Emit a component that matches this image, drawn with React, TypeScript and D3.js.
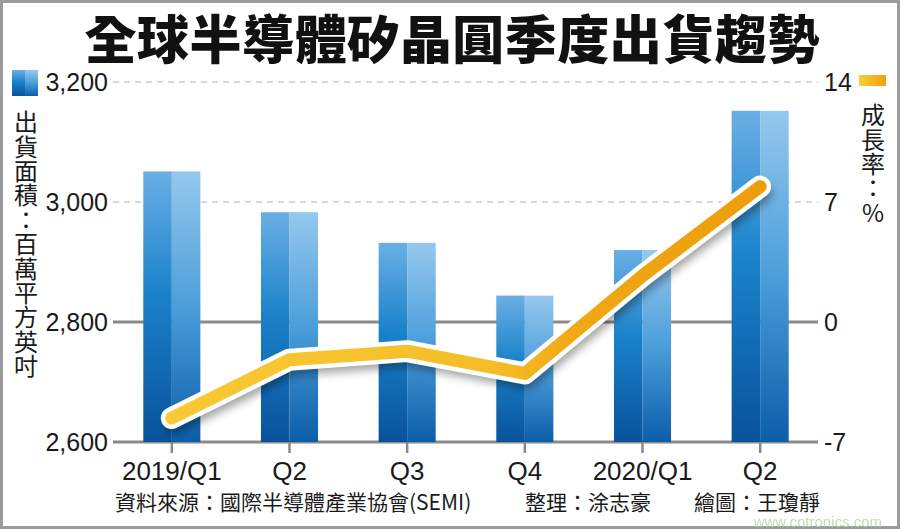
import React, { useEffect, useRef } from "react";
import * as d3 from "d3";

const quarters = ["2019/Q1", "Q2", "Q3", "Q4", "2020/Q1", "Q2 "];
const area = [3051, 2983, 2932, 2844, 2920, 3152]; // million sq. inches
const growth = [-5.6, -2.2, -1.7, -3.0, 2.7, 7.9]; // %
const leftTicks = [2600, 2800, 3000, 3200];
const rightTicks = [-7, 0, 7, 14];
const leftTitle = "出貨面積：百萬平方英吋";
const rightTitle = "成長率：%";
const footer = ["資料來源：國際半導體產業協會(SEMI)", "整理：涂志豪", "繪圖：王瓊靜"];

const W = 900;
const H = 530;
const cjk = "'Noto Sans CJK TC', 'Noto Sans CJK SC', sans-serif";
const latin = "'Liberation Sans', Arial, sans-serif";

const App = () => {
  const ref = useRef<SVGSVGElement>(null);

  useEffect(() => {
    const svg = d3.select(ref.current);
    svg.selectAll("*").remove();

    const x = d3
      .scaleBand()
      .domain(quarters)
      .range([113, 819])
      .paddingInner(0.515)
      .paddingOuter(0.2575);
    const yL = d3.scaleLinear().domain([2600, 3200]).range([442, 82]);
    const yR = d3.scaleLinear().domain([-7, 14]).range([442, 82]);
    const cx = (d: string) => (x(d) ?? 0) + x.bandwidth() / 2;

    const defs = svg.append("defs");
    const vGrad = (id: string, stops: [string, string][]) => {
      defs
        .append("linearGradient")
        .attr("id", id)
        .attr("x1", "0")
        .attr("y1", "0")
        .attr("x2", "0")
        .attr("y2", "1")
        .selectAll("stop")
        .data(stops)
        .enter()
        .append("stop")
        .attr("offset", (d) => d[0])
        .attr("stop-color", (d) => d[1]);
    };
    vGrad("barL", [
      ["0%", "#6aafe5"],
      ["45%", "#1a82ca"],
      ["100%", "#08529b"],
    ]);
    vGrad("barR", [
      ["0%", "#95c8ed"],
      ["50%", "#4b9eda"],
      ["100%", "#0b5ea8"],
    ]);

    defs
      .append("linearGradient")
      .attr("id", "lineGrad")
      .attr("gradientUnits", "userSpaceOnUse")
      .attr("x1", cx(quarters[0]))
      .attr("x2", cx(quarters[5]))
      .attr("y1", 0)
      .attr("y2", 0)
      .selectAll("stop")
      .data([
        ["0%", "#f7c935"],
        ["55%", "#f5bd27"],
        ["68%", "#f1a815"],
        ["100%", "#ee9d0b"],
      ])
      .enter()
      .append("stop")
      .attr("offset", (d) => d[0])
      .attr("stop-color", (d) => d[1]);

    defs
      .append("linearGradient")
      .attr("id", "legR")
      .selectAll("stop")
      .data([
        ["0%", "#f8cf3c"],
        ["100%", "#f0a010"],
      ])
      .enter()
      .append("stop")
      .attr("offset", (d) => d[0])
      .attr("stop-color", (d) => d[1]);

    defs
      .append("filter")
      .attr("id", "blur")
      .attr("x", "-10%")
      .attr("y", "-10%")
      .attr("width", "120%")
      .attr("height", "130%")
      .append("feGaussianBlur")
      .attr("stdDeviation", 4);

    // frame
    svg
      .append("rect")
      .attr("x", 1.5)
      .attr("y", 1.5)
      .attr("width", W - 3)
      .attr("height", H - 4)
      .attr("fill", "#fff")
      .attr("stroke", "#9b9b9b")
      .attr("stroke-width", 3);

    // title
    svg
      .append("text")
      .attr("x", 452)
      .attr("y", 59)
      .attr("text-anchor", "middle")
      .attr("textLength", 735)
      .attr("lengthAdjust", "spacing")
      .style("font-family", cjk)
      .style("font-weight", 900)
      .style("font-size", "52px")
      .attr("fill", "#111")
      .text("全球半導體矽晶圓季度出貨趨勢");

    // grid lines
    const g = svg.append("g");
    g.selectAll("line.grid")
      .data(leftTicks)
      .enter()
      .append("line")
      .attr("x1", 113)
      .attr("x2", 818)
      .attr("y1", (d) => yL(d))
      .attr("y2", (d) => yL(d))
      .attr("stroke", (d) => (d >= 3000 ? "#b4b4b4" : "#8a8a8a"))
      .attr("stroke-width", (d) => (d >= 3000 ? 1.2 : 3))
      .attr("stroke-dasharray", (d) => (d >= 3000 ? "6,5" : null));

    // x ticks
    g.selectAll("line.xt")
      .data(quarters)
      .enter()
      .append("line")
      .attr("x1", cx)
      .attr("x2", cx)
      .attr("y1", 443)
      .attr("y2", 453)
      .attr("stroke", "#8a8a8a")
      .attr("stroke-width", 2.5);

    // bars, two-tone halves
    const bars = g.selectAll("g.bar").data(quarters).enter().append("g");
    bars
      .append("rect")
      .attr("x", (d) => x(d) ?? 0)
      .attr("y", (d, i) => yL(area[i]))
      .attr("width", x.bandwidth() / 2)
      .attr("height", (d, i) => yL(2600) - yL(area[i]))
      .attr("fill", "url(#barL)");
    bars
      .append("rect")
      .attr("x", (d) => cx(d))
      .attr("y", (d, i) => yL(area[i]))
      .attr("width", x.bandwidth() / 2)
      .attr("height", (d, i) => yL(2600) - yL(area[i]))
      .attr("fill", "url(#barR)");

    // growth line
    const line = d3
      .line<number>()
      .x((d, i) => cx(quarters[i]))
      .y((d) => yR(d));
    const pathD = line(growth) ?? "";
    svg
      .append("path")
      .attr("d", pathD)
      .attr("transform", "translate(3,7)")
      .attr("fill", "none")
      .attr("stroke", "rgba(0,0,0,0.35)")
      .attr("stroke-width", 18)
      .attr("stroke-linejoin", "round")
      .attr("stroke-linecap", "round")
      .attr("filter", "url(#blur)");
    svg
      .append("path")
      .attr("d", pathD)
      .attr("fill", "none")
      .attr("stroke", "#fff")
      .attr("stroke-width", 22)
      .attr("stroke-linejoin", "round")
      .attr("stroke-linecap", "round");
    svg
      .append("path")
      .attr("d", pathD)
      .attr("fill", "none")
      .attr("stroke", "url(#lineGrad)")
      .attr("stroke-width", 13)
      .attr("stroke-linejoin", "round")
      .attr("stroke-linecap", "round");

    // axis labels
    svg
      .selectAll("text.yl")
      .data(leftTicks)
      .enter()
      .append("text")
      .attr("x", 108)
      .attr("y", (d) => yL(d) + 9)
      .attr("text-anchor", "end")
      .style("font-family", latin)
      .style("font-size", "25px")
      .attr("fill", "#1a1a1a")
      .text((d) => d3.format(",")(d));
    svg
      .selectAll("text.yr")
      .data(rightTicks)
      .enter()
      .append("text")
      .attr("x", 824)
      .attr("y", (d) => yR(d) + 9)
      .style("font-family", latin)
      .style("font-size", "25px")
      .attr("fill", "#1a1a1a")
      .text((d) => String(d));
    svg
      .selectAll("text.xl")
      .data(quarters)
      .enter()
      .append("text")
      .attr("x", cx)
      .attr("y", 480)
      .attr("text-anchor", "middle")
      .style("font-family", latin)
      .style("font-size", "26px")
      .attr("fill", "#1a1a1a")
      .text((d) => d.trim());

    // legend keys
    svg
      .append("rect")
      .attr("x", 12)
      .attr("y", 70)
      .attr("width", 13)
      .attr("height", 26)
      .attr("fill", "url(#barL)");
    svg
      .append("rect")
      .attr("x", 25)
      .attr("y", 70)
      .attr("width", 13)
      .attr("height", 26)
      .attr("fill", "url(#barR)");
    svg
      .append("rect")
      .attr("x", 859)
      .attr("y", 75)
      .attr("width", 27)
      .attr("height", 11)
      .attr("fill", "url(#legR)");

    // vertical axis titles: one glyph per text, each set vertically
    const vertical = (chars: string[], x0: number, y0: number) => {
      svg
        .append("g")
        .selectAll("text")
        .data(chars)
        .enter()
        .append("text")
        .attr("x", x0)
        .attr("y", (d, i) => y0 + i * 24.4)
        .style("writing-mode", "vertical-rl")
        .style("text-orientation", "upright")
        .style("font-family", cjk)
        .style("font-size", "24px")
        .attr("fill", "#1a1a1a")
        .text((d) => d);
    };
    vertical(leftTitle.split(""), 26, 110);
    vertical(rightTitle.split(""), 873, 103);

    // footer
    const fx = [115, 525, 694];
    svg
      .selectAll("text.ft")
      .data(footer)
      .enter()
      .append("text")
      .attr("x", (d, i) => fx[i])
      .attr("y", 510)
      .style("font-family", cjk)
      .style("font-size", "21px")
      .attr("fill", "#1a1a1a")
      .text((d) => d);

    svg
      .append("text")
      .attr("x", 882)
      .attr("y", 527)
      .attr("text-anchor", "end")
      .style("font-family", latin)
      .style("font-size", "15px")
      .attr("fill", "#b9d9a4")
      .attr("opacity", 0.85)
      .text("www.cntronics.com");
  }, []);

  return (
    <div>
      <svg
        ref={ref}
        width={W}
        height={H}
        style={{ position: "absolute", left: 0, top: 0, display: "block" }}
      />
    </div>
  );
};

export default App;
